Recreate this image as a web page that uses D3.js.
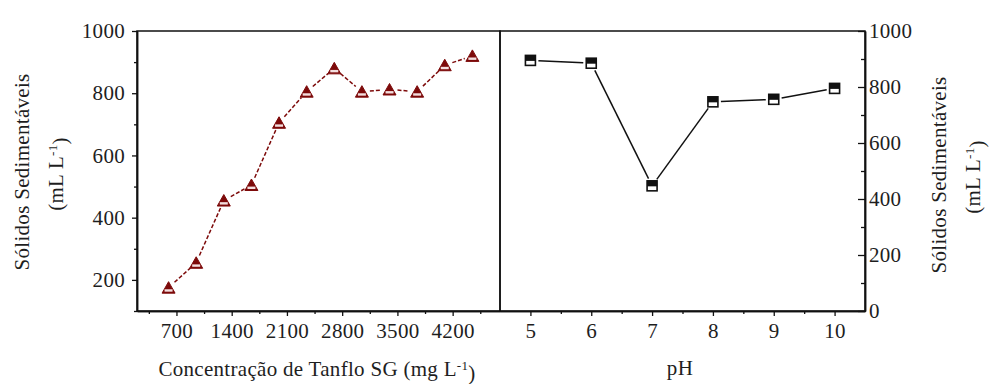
<!DOCTYPE html>
<html>
<head>
<meta charset="utf-8">
<script src="https://cdn.jsdelivr.net/npm/d3@7"></script>
<style>
  body { margin: 0; background: #fff; }
  svg text { font-family: "Liberation Serif", "DejaVu Serif", serif; fill: #1e1e1e; letter-spacing: 0.3px; }
</style>
</head>
<body>
<svg id="chart" width="989" height="384"></svg>
<script>
// left panel: Tanflo SG dosage
const dose = [600, 950, 1300, 1650, 2000, 2350, 2700, 3050, 3400, 3750, 4100, 4450]
const solidsDose = [175, 255, 455, 505, 705, 805, 880, 805, 812, 805, 890, 920]
const doseTicks = [700, 1400, 2100, 2800, 3500, 4200]
const doseMinor = [350, 1050, 1750, 2450, 3150, 3850, 4550]
const leftYTicks = [200, 400, 600, 800, 1000]
const leftYMinor = [100, 300, 500, 700, 900]

// right panel: pH
const ph = [5, 6, 7, 8, 9, 10]
const solidsPh = [895, 885, 447, 747, 756, 795]
const phTicks = [5, 6, 7, 8, 9, 10]
const phMinor = [5.5, 6.5, 7.5, 8.5, 9.5]
const rightYTicks = [0, 200, 400, 600, 800, 1000]
const rightYMinor = [100, 300, 500, 700, 900]

const plotTop = 31, plotBottom = 311
const svg = d3.select('#chart')
const fontSize = 21
const serif = '"Liberation Serif", "DejaVu Serif", serif'
const fmt = d3.format('d')

const xDose = d3.scaleLinear().domain([200, 4800]).range([137, 500])
const yLeft = d3.scaleLinear().domain([100, 1000]).range([plotBottom, plotTop])
const xPh = d3.scaleLinear().domain([4.5, 10.5]).range([500, 865])
const yRight = d3.scaleLinear().domain([0, 1000]).range([plotBottom, plotTop])

function styleAxis(g) {
  g.attr('font-family', serif).attr('font-size', fontSize)
  g.selectAll('path').attr('stroke', '#111').attr('stroke-width', 1.5)
  g.selectAll('line').attr('stroke', '#111').attr('stroke-width', 1.3)
  g.selectAll('text').attr('fill', '#1e1e1e')
}

// frames
svg.append('rect').attr('x', 137).attr('y', plotTop).attr('width', 500 - 137).attr('height', plotBottom - plotTop)
  .attr('fill', 'none').attr('stroke', '#111').attr('stroke-width', 1.5)
svg.append('rect').attr('x', 500).attr('y', plotTop).attr('width', 865 - 500).attr('height', plotBottom - plotTop)
  .attr('fill', 'none').attr('stroke', '#111').attr('stroke-width', 1.5)

// left axes
svg.append('g').attr('transform', `translate(137,0)`)
  .call(d3.axisLeft(yLeft).tickValues(leftYTicks).tickFormat(fmt).tickSize(5).tickSizeOuter(0).tickPadding(7))
  .call(styleAxis)
svg.append('g').attr('transform', `translate(137,0)`)
  .call(d3.axisLeft(yLeft).tickValues(leftYMinor).tickSize(3).tickSizeOuter(0).tickFormat(''))
  .call(styleAxis)
svg.append('g').attr('transform', `translate(0,${plotBottom})`)
  .call(d3.axisBottom(xDose).tickValues(doseTicks).tickFormat(fmt).tickSize(5).tickSizeOuter(0).tickPadding(7))
  .call(styleAxis)
svg.append('g').attr('transform', `translate(0,${plotBottom})`)
  .call(d3.axisBottom(xDose).tickValues(doseMinor).tickSize(3).tickSizeOuter(0).tickFormat(''))
  .call(styleAxis)

// right axes, ticks pointing inward
svg.append('g').attr('transform', `translate(865,0)`)
  .call(d3.axisRight(yRight).tickValues(rightYTicks).tickFormat(fmt).tickSize(-7).tickSizeOuter(0).tickPadding(4))
  .call(styleAxis)
svg.append('g').attr('transform', `translate(865,0)`)
  .call(d3.axisRight(yRight).tickValues(rightYMinor).tickSize(-4).tickSizeOuter(0).tickFormat(''))
  .call(styleAxis)
svg.append('g').attr('transform', `translate(0,${plotBottom})`)
  .call(d3.axisBottom(xPh).tickValues(phTicks).tickFormat(fmt).tickSize(5).tickSizeOuter(0).tickPadding(7))
  .call(styleAxis)
svg.append('g').attr('transform', `translate(0,${plotBottom})`)
  .call(d3.axisBottom(xPh).tickValues(phMinor).tickSize(3).tickSizeOuter(0).tickFormat(''))
  .call(styleAxis)

// connecting segments with a gap around each symbol
function drawSegments(xs, ys, sx, sy, gap, color, dash) {
  const pts = xs.map((v, i) => [sx(v), sy(ys[i])])
  d3.pairs(pts).forEach(([a, b]) => {
    const dx = b[0] - a[0], dy = b[1] - a[1]
    const len = Math.hypot(dx, dy)
    if (len <= gap * 2) return
    const ux = dx / len, uy = dy / len
    svg.append('line')
      .attr('x1', a[0] + ux * gap).attr('y1', a[1] + uy * gap)
      .attr('x2', b[0] - ux * gap).attr('y2', b[1] - uy * gap)
      .attr('stroke', color).attr('stroke-width', 1.5)
      .attr('stroke-dasharray', dash)
  })
}

const red = '#7d0a0a'
drawSegments(dose, solidsDose, xDose, yLeft, 8, red, '4,2')
drawSegments(ph, solidsPh, xPh, yRight, 8, '#111', null)

const tri = svg.append('g').selectAll('g').data(dose).join('g')
  .attr('transform', (d, i) => `translate(${xDose(d)},${yLeft(solidsDose[i])})`)
tri.append('path').attr('d', 'M0,-6L6.5,5.5L-6.5,5.5Z').attr('fill', red).attr('stroke', red).attr('stroke-width', 1)
tri.append('rect').attr('x', -4).attr('y', 1.6).attr('width', 8).attr('height', 2.4).attr('fill', '#f3dede')

const sq = svg.append('g').selectAll('g').data(ph).join('g')
  .attr('transform', (d, i) => `translate(${xPh(d)},${yRight(solidsPh[i])})`)
sq.append('rect').attr('x', -5).attr('y', -5).attr('width', 10).attr('height', 10)
  .attr('fill', '#fff').attr('stroke', '#111').attr('stroke-width', 1.6)
sq.append('rect').attr('x', -5).attr('y', -5).attr('width', 10).attr('height', 5.5).attr('fill', '#111')

// axis titles
function yTitle(x, y) {
  const g = svg.append('g').attr('font-family', serif).attr('font-size', fontSize)
  g.append('text').attr('transform', `translate(${x},${y}) rotate(-90)`)
    .attr('text-anchor', 'middle').attr('dy', '0.35em')
    .text('Sólidos Sedimentáveis')
  const t = g.append('text').attr('transform', `translate(${x + 34},${y + 2}) rotate(-90)`)
    .attr('text-anchor', 'middle').attr('dy', '0.35em')
  t.append('tspan').text('(mL L')
  t.append('tspan').attr('dy', '-0.5em').attr('font-size', 13).text('-1')
  t.append('tspan').attr('dy', '0.5em').text(')')
}
yTitle(22, 172)
yTitle(939, 175)

const xt = svg.append('text').attr('x', 317).attr('y', 376).attr('text-anchor', 'middle')
  .attr('font-family', serif).attr('font-size', fontSize)
xt.append('tspan').text('Concentração de Tanflo SG (mg L')
xt.append('tspan').attr('dy', '-0.5em').attr('font-size', 13).text('-1')
xt.append('tspan').attr('dy', '0.5em').text(')')

svg.append('text').attr('x', 680).attr('y', 375).attr('text-anchor', 'middle')
  .attr('font-family', serif).attr('font-size', fontSize).text('pH')
</script>
</body>
</html>
